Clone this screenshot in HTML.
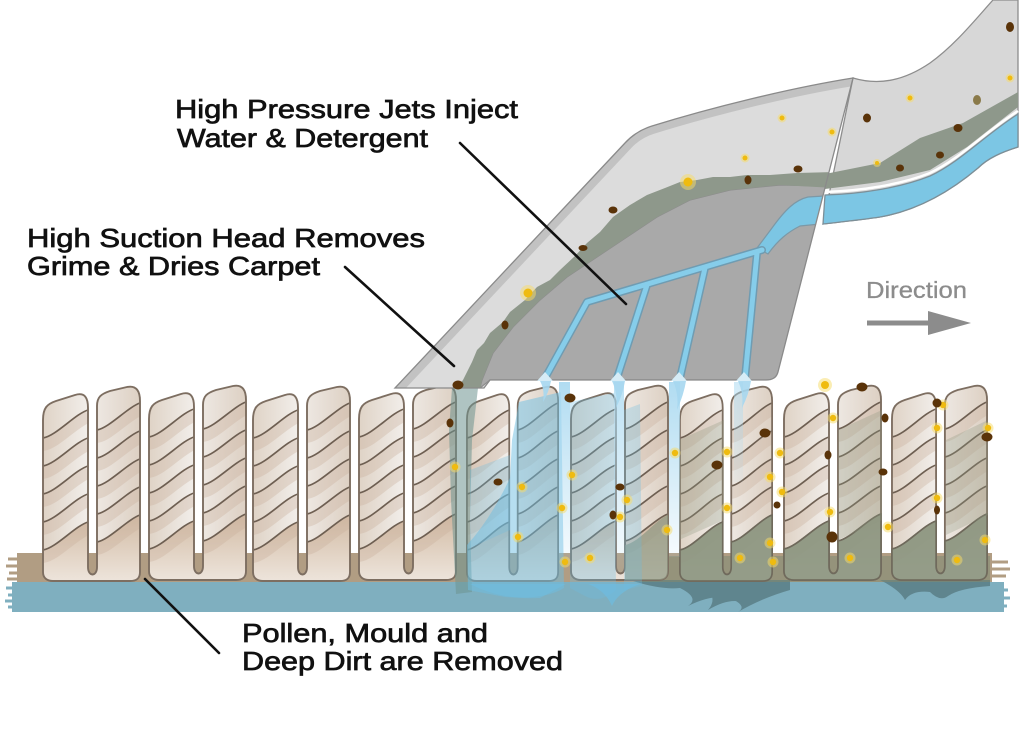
<!DOCTYPE html>
<html><head><meta charset="utf-8"><style>html,body{margin:0;padding:0;background:#fff;}svg{display:block}</style></head>
<body>
<svg width="1024" height="748" viewBox="0 0 1024 748" xmlns="http://www.w3.org/2000/svg" xmlns:xlink="http://www.w3.org/1999/xlink">
<defs>
  <linearGradient id="yg" x1="0" y1="0" x2="1" y2="0">
    <stop offset="0" stop-color="#dfd3c6"/><stop offset="0.45" stop-color="#f1ede9"/><stop offset="1" stop-color="#ddd0c3"/>
  </linearGradient>
  <linearGradient id="bg" x1="0" y1="0" x2="0" y2="1">
    <stop offset="0" stop-color="#d2bba4"/><stop offset="1" stop-color="#ede4db"/>
  </linearGradient>
  <clipPath id="pc"><path d="M1,34 C1,22 5,18 14,15 L33,9 C43,6 46,12 46,22 L46,181 C46,191 55,191 55,181 L55,20 C55,11 59,8 68,5 L85,1 C95,-1 98,6 98,15 L98,186 C98,193 94,195 88,195 L11,195 C5,195 1,192 1,186 Z"/></clipPath>
  <g id="lines">
    <path fill="none" d="M1,52 C14,50 33,28 46,24 M1,80 C14,78 33,56 46,52 M1,108 C14,106 33,84 46,80 M1,136 C14,134 33,112 46,108 M1,164 C14,162 33,140 46,136 M55,44 C67,42 86,21 98,17 M55,72 C67,70 86,49 98,45 M55,100 C67,98 86,77 98,73 M55,128 C67,126 86,105 98,101 M55,156 C67,154 86,133 98,129"/>
  </g>
  <g id="pair">
    <path d="M1,34 C1,22 5,18 14,15 L33,9 C43,6 46,12 46,22 L46,181 C46,191 55,191 55,181 L55,20 C55,11 59,8 68,5 L85,1 C95,-1 98,6 98,15 L98,186 C98,193 94,195 88,195 L11,195 C5,195 1,192 1,186 Z" fill="url(#yg)"/>
    <g clip-path="url(#pc)">
      <path d="M1,164 C14,162 33,140 46,136 L46,181 C46,191 55,191 55,181 L55,156 C67,154 86,133 98,129 L98,186 C98,193 94,195 88,195 L11,195 C5,195 1,192 1,186 Z" fill="url(#bg)"/>
      <use xlink:href="#lines" href="#lines" transform="translate(0,7)" stroke="#c8b09a" stroke-width="12" stroke-opacity="0.35"/>
    </g>
    <use xlink:href="#lines" href="#lines" stroke="#6e5f52" stroke-width="1.7"/>
    <path d="M1,34 C1,22 5,18 14,15 L33,9 C43,6 46,12 46,22 L46,181 C46,191 55,191 55,181 L55,20 C55,11 59,8 68,5 L85,1 C95,-1 98,6 98,15 L98,186 C98,193 94,195 88,195 L11,195 C5,195 1,192 1,186 Z" fill="none" stroke="#7d6e61" stroke-width="1.9"/>
  </g>
  <g id="dbase">
    <path d="M1,164 C14,162 33,140 46,136 L46,181 C46,191 55,191 55,181 L55,156 C67,154 86,133 98,129 L98,186 C98,193 94,195 88,195 L11,195 C5,195 1,192 1,186 Z" fill="#8d9782" stroke="#6e6a5c" stroke-width="1.6"/>
  </g>
  <clipPath id="hc"><path d="M395,388 L625,143 Q636,131 652,126 C710,108 790,88 853,78 L778,372 Q776,380 766,380 L490,380 L484,388 Z"/></clipPath>
  <linearGradient id="spr" x1="0" y1="0" x2="0" y2="1">
    <stop offset="0" stop-color="#a8d8f0" stop-opacity="0.9"/><stop offset="1" stop-color="#a8d8f0" stop-opacity="0.1"/>
  </linearGradient>
</defs>

<rect width="1024" height="748" fill="#fff"/>

<!-- backing -->
<rect x="17" y="553" width="975" height="31" fill="#b19d83"/>
<rect x="12" y="582" width="992" height="30" fill="#7fafbf"/>
<g stroke="#b19d83" stroke-width="3">
  <line x1="8" y1="559" x2="18" y2="559"/><line x1="6" y1="566" x2="18" y2="566"/><line x1="9" y1="573" x2="18" y2="573"/><line x1="7" y1="579" x2="18" y2="579"/>
  <line x1="990" y1="562" x2="1008" y2="562"/><line x1="990" y1="569" x2="1010" y2="569"/><line x1="990" y1="576" x2="1006" y2="576"/>
</g>
<g stroke="#7fafbf" stroke-width="3">
  <line x1="6" y1="588" x2="14" y2="588"/><line x1="8" y1="595" x2="14" y2="595"/><line x1="5" y1="601" x2="14" y2="601"/><line x1="8" y1="607" x2="14" y2="607"/>
  <line x1="1000" y1="590" x2="1008" y2="590"/><line x1="1000" y1="598" x2="1010" y2="598"/><line x1="1000" y1="606" x2="1007" y2="606"/>
</g>

<!-- backing smudges -->
<g fill="#587b82" opacity="0.8">
  <path d="M630,580 Q660,590 680,588 Q700,598 688,606 Q712,594 730,598 Q748,606 738,612 Q762,598 790,590 L790,580 Z"/>
  <path d="M700,583 Q720,596 708,610 Q728,598 742,602 L760,583 Z"/>
  <path d="M880,580 Q900,590 905,600 Q912,590 930,592 Q940,602 948,596 Q960,588 990,586 L990,580 Z"/>
</g>
<g fill="#7e8a75" opacity="0.55">
  <rect x="640" y="556" width="350" height="26"/>
</g>

<!-- tufts -->
<use xlink:href="#pair" href="#pair" transform="translate(42,386)"/>
<use xlink:href="#pair" href="#pair" transform="translate(148,385)"/>
<use xlink:href="#pair" href="#pair" transform="translate(252,386)"/>
<use xlink:href="#pair" href="#pair" transform="translate(358,385)"/>
<use xlink:href="#pair" href="#pair" transform="translate(466,386) scale(0.94,1)"/>
<use xlink:href="#pair" href="#pair" transform="translate(570,385)"/>
<use xlink:href="#pair" href="#pair" transform="translate(679,386) scale(0.95,1)"/>
<use xlink:href="#pair" href="#pair" transform="translate(783,385)"/>
<use xlink:href="#pair" href="#pair" transform="translate(891,385) scale(0.98,1)"/>

<!-- dirty bases -->
<use xlink:href="#dbase" href="#dbase" transform="translate(679,386) scale(0.95,1)" opacity="0.92"/>
<use xlink:href="#dbase" href="#dbase" transform="translate(783,385)" opacity="0.92"/>
<use xlink:href="#dbase" href="#dbase" transform="translate(891,385) scale(0.98,1)" opacity="0.92"/>
<path d="M625,545 C640,542 655,520 668,515 L668,570 C668,578 664,580 658,580 L625,580 Z" fill="#8d9782" opacity="0.7"/>
<g fill="#8d9782" opacity="0.3">
  <path d="M679,440 L724,420 L724,520 L679,540 Z"/>
  <path d="M838,430 L882,410 L882,520 L838,540 Z"/>
  <path d="M946,440 L988,420 L988,515 L946,535 Z"/>
</g>

<!-- suction streak -->
<path d="M452,388 L478,388 L472,440 L470,520 L472,592 L456,594 L451,500 L449,430 Z" fill="#6d948f" opacity="0.55"/>

<!-- wet overlay -->
<g fill="#6dbde2">
  <path d="M519,402 L561,392 L564,588 Q545,600 505,597 L468,590 L467,545 Q490,520 510,478 L512,440 Z" opacity="0.5"/>
  <path d="M470,470 L510,455 L510,530 L470,548 Z" opacity="0.3"/>
  <path d="M570,402 L614,393 L616,590 Q600,604 585,596 L570,588 Z" opacity="0.32"/>
  <path d="M624,410 L640,404 L642,586 L624,590 Z" opacity="0.3"/>
  <path d="M588,584 Q605,590 612,606 Q618,592 640,584 Z" opacity="0.65"/>
  <path d="M470,584 Q500,600 540,598 L566,584 Z" opacity="0.5"/>
</g>
<g fill="url(#spr)">
  <rect x="559" y="382" width="11" height="180"/>
  <rect x="614" y="382" width="10" height="190" opacity="0.85"/>
  <rect x="669" y="382" width="11" height="175"/>
  <rect x="734" y="382" width="9" height="100" opacity="0.6"/>
</g>

<!-- hose -->
<path d="M853,78 C880,86 905,80 930,63 C955,45 975,20 993,0 L1018,0 L1018,147 C1002,152 988,158 978,168 C952,190 920,210 880,217 C860,220 840,222 823,224 Z" fill="#d7d7d7" stroke="#8d8d8d" stroke-width="1.3"/>
<path d="M825,174 L880,163 L920,138 L963,123 L1018,92 L1018,107 L967,147 L930,170 L880,182 L825,189 Z" fill="#8e988b"/>
<path d="M825,195 C860,194 900,188 930,176 C960,162 985,135 1018,114 L1018,147 C1002,152 988,158 978,168 C952,190 920,210 880,217 C860,220 840,222 823,224 Z" fill="#7cc6e4" stroke="#7c8f98" stroke-width="1.3"/>
<path d="M825,192 C860,191 900,185 930,173 C960,159 985,132 1018,111" fill="none" stroke="#fff" stroke-width="2.5"/>

<!-- head -->
<path d="M395,388 L625,143 Q636,131 652,126 C710,108 790,88 853,78 L778,372 Q776,380 766,380 L490,380 L484,388 Z" fill="#dcdcdc"/>
<g clip-path="url(#hc)">
  <path d="M395,388 L625,143 Q636,131 652,126 C710,108 790,88 853,78" fill="none" stroke="#c2c2c2" stroke-width="16"/>
  <path d="M480,388 L482,380 L493,353 L513,327 L540,300 L567,277 L597,257 L627,237 L657,217 L690,200 L730,190 L780,185 L830,186 L778,372 Q776,380 766,380 L490,380 Z" fill="#a9a9a9" stroke="#8d8d8d" stroke-width="1.2"/>
  <path d="M457,388 L463,380 L472,362 L477,350 L484,343 L490,333 L503,322 L510,312 L525,300 L537,287 L550,280 L560,270 L575,256 L587,243 L600,232 L613,217 L630,205 L647,195 L665,188 L680,182 L697,180 L713,177 L730,177 L747,175 L770,175 L797,173 L835,172 L835,188 L780,185 L730,190 L690,200 L657,217 L627,237 L597,257 L567,277 L540,300 L513,327 L493,353 L482,380 L480,390 Z" fill="#8e988b"/>
  <path d="M840,195 L808,197 C795,200 785,210 772,228 L757,248 L768,254 C778,240 788,232 800,226 L840,222 Z" fill="#7cc6e4" stroke="#7c98a6" stroke-width="1.2"/>
  <g fill="none" stroke-linecap="round" stroke-linejoin="round">
    <path d="M762,250 L587,302 L545,378 M647,285 L617,378 M705,268 L680,378 M757,253 L745,378" stroke="#6f9cb2" stroke-width="8"/>
    <path d="M762,250 L587,302 L545,378 M647,285 L617,378 M705,268 L680,378 M757,253 L745,378" stroke="#86cdea" stroke-width="5"/>
  </g>
</g>
<path d="M395,388 L625,143 Q636,131 652,126 C710,108 790,88 853,78 L778,372 Q776,380 766,380 L490,380 L484,388 Z" fill="none" stroke="#8a8a8a" stroke-width="1.3"/>
<g fill="#d6ecf6">
  <path d="M537,381 L545,372 L553,381 Z"/><path d="M610,381 L618,372 L626,381 Z"/><path d="M671,381 L679,372 L687,381 Z"/><path d="M736,381 L744,372 L752,381 Z"/>
</g>
<g fill="#a7d8f0" opacity="0.9">
  <path d="M540,381 Q545,390 543,402 Q549,392 551,381 Z"/>
  <path d="M612,381 Q618,394 616,408 Q623,394 625,381 Z"/>
  <path d="M673,381 Q679,394 677,410 Q684,394 686,381 Z"/>
  <path d="M738,381 Q744,394 742,408 Q749,394 751,381 Z"/>
</g>

<!-- yellow particles -->
<g>
  <g fill="#f7dc6a" opacity="0.5">
    <circle cx="688" cy="182" r="8"/><circle cx="528" cy="293" r="8"/><circle cx="825" cy="385" r="7"/>
    <circle cx="745" cy="158" r="4.5"/><circle cx="782" cy="118" r="4.5"/><circle cx="832" cy="132" r="4.5"/><circle cx="910" cy="98" r="4.5"/><circle cx="1010" cy="78" r="4.5"/><circle cx="877" cy="163" r="4"/>
    <circle cx="455" cy="467" r="5.5"/><circle cx="522" cy="487" r="5.5"/><circle cx="518" cy="537" r="5.5"/><circle cx="562" cy="508" r="5.5"/><circle cx="572" cy="475" r="5.5"/><circle cx="565" cy="562" r="5.5"/><circle cx="590" cy="558" r="5.5"/><circle cx="627" cy="500" r="5.5"/><circle cx="620" cy="517" r="5.5"/><circle cx="667" cy="530" r="5.5"/><circle cx="675" cy="453" r="5.5"/>
    <circle cx="833" cy="418" r="5.5"/><circle cx="727" cy="452" r="5.5"/><circle cx="780" cy="453" r="5.5"/><circle cx="770" cy="477" r="5.5"/><circle cx="782" cy="492" r="5.5"/><circle cx="727" cy="508" r="5.5"/><circle cx="830" cy="512" r="5.5"/><circle cx="888" cy="527" r="5.5"/><circle cx="770" cy="543" r="5.5"/><circle cx="740" cy="558" r="5.5"/><circle cx="773" cy="562" r="5.5"/><circle cx="850" cy="558" r="5.5"/><circle cx="943" cy="405" r="5.5"/><circle cx="937" cy="428" r="5.5"/><circle cx="937" cy="498" r="5.5"/><circle cx="988" cy="428" r="5.5"/><circle cx="985" cy="540" r="5.5"/><circle cx="957" cy="560" r="5.5"/>
  </g>
  <g fill="#efbb10">
    <circle cx="688" cy="182" r="4.5"/><circle cx="528" cy="293" r="4.5"/><circle cx="825" cy="385" r="4"/>
    <circle cx="745" cy="158" r="2.5"/><circle cx="782" cy="118" r="2.5"/><circle cx="832" cy="132" r="2.5"/><circle cx="910" cy="98" r="2.5"/><circle cx="1010" cy="78" r="2.5"/><circle cx="877" cy="163" r="2"/>
    <circle cx="455" cy="467" r="3.2"/><circle cx="522" cy="487" r="3.2"/><circle cx="518" cy="537" r="3.2"/><circle cx="562" cy="508" r="3.2"/><circle cx="572" cy="475" r="3.2"/><circle cx="565" cy="562" r="3.2"/><circle cx="590" cy="558" r="3.2"/><circle cx="627" cy="500" r="3.2"/><circle cx="620" cy="517" r="3.2"/><circle cx="667" cy="530" r="3.2"/><circle cx="675" cy="453" r="3.2"/>
    <circle cx="833" cy="418" r="3.2"/><circle cx="727" cy="452" r="3.2"/><circle cx="780" cy="453" r="3.2"/><circle cx="770" cy="477" r="3.2"/><circle cx="782" cy="492" r="3.2"/><circle cx="727" cy="508" r="3.2"/><circle cx="830" cy="512" r="3.2"/><circle cx="888" cy="527" r="3.2"/><circle cx="770" cy="543" r="3.2"/><circle cx="740" cy="558" r="3.2"/><circle cx="773" cy="562" r="3.2"/><circle cx="850" cy="558" r="3.2"/><circle cx="943" cy="405" r="3.2"/><circle cx="937" cy="428" r="3.2"/><circle cx="937" cy="498" r="3.2"/><circle cx="988" cy="428" r="3.2"/><circle cx="985" cy="540" r="3.2"/><circle cx="957" cy="560" r="3.2"/>
  </g>
</g>
<!-- brown particles -->
<g fill="#5a3309">
  <ellipse cx="613" cy="210" rx="4.5" ry="3.5"/><ellipse cx="583" cy="248" rx="4.5" ry="3"/><ellipse cx="505" cy="325" rx="3.5" ry="4.5"/><ellipse cx="748" cy="180" rx="3.5" ry="4.5"/><ellipse cx="798" cy="169" rx="4.5" ry="3.5"/><ellipse cx="458" cy="385" rx="5.5" ry="4.5"/>
  <ellipse cx="867" cy="118" rx="4" ry="4.5"/><ellipse cx="1010" cy="27" rx="4" ry="5"/><ellipse cx="958" cy="128" rx="4.5" ry="4"/><ellipse cx="940" cy="155" rx="4" ry="3.5"/><ellipse cx="900" cy="168" rx="4" ry="3.5"/>
  <ellipse cx="450" cy="423" rx="3.5" ry="4.5"/><ellipse cx="498" cy="482" rx="4.5" ry="3.5"/><ellipse cx="570" cy="398" rx="5.5" ry="4.5"/><ellipse cx="620" cy="487" rx="4.5" ry="3.5"/><ellipse cx="613" cy="515" rx="3.5" ry="4.5"/>
  <ellipse cx="862" cy="387" rx="5.5" ry="4.5"/><ellipse cx="765" cy="433" rx="5.5" ry="4.5"/><ellipse cx="717" cy="465" rx="5.5" ry="4.5"/><ellipse cx="828" cy="455" rx="3.5" ry="4.5"/><ellipse cx="885" cy="418" rx="3.5" ry="4.5"/><ellipse cx="883" cy="472" rx="4.5" ry="3.5"/><ellipse cx="777" cy="505" rx="3.5" ry="3.5"/><ellipse cx="832" cy="537" rx="5.5" ry="5.5"/><ellipse cx="937" cy="403" rx="4.5" ry="4.5"/><ellipse cx="987" cy="437" rx="5.5" ry="4.5"/><ellipse cx="937" cy="510" rx="3" ry="4.5"/>
</g>
<ellipse cx="977" cy="100" rx="4" ry="5" fill="#8a7a4a"/>

<!-- leader lines -->
<g stroke="#111" stroke-width="2.6" stroke-linecap="round">
  <line x1="460" y1="143" x2="626" y2="304"/>
  <line x1="345" y1="267" x2="454" y2="366"/>
  <line x1="145" y1="579" x2="219" y2="653"/>
</g>

<!-- labels -->
<g font-family="'Liberation Sans', Arial, sans-serif" font-size="26" fill="#111" stroke="#111" stroke-width="0.7">
  <text x="175" y="118" textLength="343" lengthAdjust="spacingAndGlyphs">High Pressure Jets Inject</text>
  <text x="177" y="147" textLength="251" lengthAdjust="spacingAndGlyphs">Water &amp; Detergent</text>
  <text x="27" y="247" textLength="398" lengthAdjust="spacingAndGlyphs">High Suction Head Removes</text>
  <text x="27" y="275" textLength="293" lengthAdjust="spacingAndGlyphs">Grime &amp; Dries Carpet</text>
  <text x="242" y="642" textLength="246" lengthAdjust="spacingAndGlyphs">Pollen, Mould and</text>
  <text x="242" y="670" textLength="321" lengthAdjust="spacingAndGlyphs">Deep Dirt are Removed</text>
</g>
<text x="866" y="298" font-family="'Liberation Sans', Arial, sans-serif" font-size="23" fill="#8c8c8c" stroke="#8c8c8c" stroke-width="0.3" textLength="101" lengthAdjust="spacingAndGlyphs">Direction</text>
<line x1="867" y1="323" x2="932" y2="323" stroke="#8c8c8c" stroke-width="5"/>
<path d="M928,311 L971,323 L928,335 Z" fill="#8c8c8c"/>
</svg>
</body></html>
